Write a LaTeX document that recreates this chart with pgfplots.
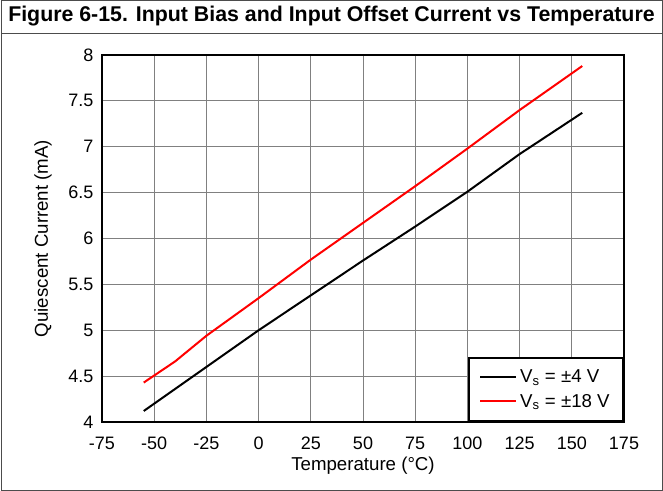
\documentclass[border=0pt]{standalone}
\usepackage{fontspec}
\setmainfont{Liberation Sans}
\usepackage{pgfplots}
\pgfplotsset{compat=1.18}
\begin{document}
\begin{tikzpicture}
\useasboundingbox (0,0) rectangle (497.25pt,-368.25pt);
\draw[line width=0.75pt, black!70] (0.75pt,-0.5pt) rectangle (496.5pt,-367.7pt);
\draw[line width=0.75pt, black!70] (0.75pt,-25.5pt) -- (496.5pt,-25.5pt);
\node[anchor=base west, inner sep=0pt, font=\bfseries\fontsize{16}{19}\selectfont] at (6pt,-16.5pt) {Figure 6-15. Input Bias and Input Offset Current vs Temperature};
\begin{axis}[
  at={(76.5pt,-316.5pt)}, anchor=south west,
  scale only axis, width=391.5pt, height=275.25pt,
  xmin=-75, xmax=175, ymin=4, ymax=8,
  xtick={-75,-50,...,175}, ytick={4,4.5,...,8},
  yticklabels={4,4.5,5,5.5,6,6.5,7,7.5,8},
  /pgf/number format/assume math mode=true,
  tick label style={font=\fontsize{13.5}{16}\selectfont},
  xticklabel style={yshift=-8pt},
  yticklabel style={xshift=-3pt},
  major tick length=0pt,
  grid=major,
  major grid style={line width=0.75pt, black!50},
  axis line style={line width=1.5pt, black},
  xlabel={Temperature (°C)},
  ylabel={Quiescent Current (mA)},
  every axis x label/.style={at={(axis description cs:0.5,-0.12)}, anchor=center, font=\fontsize{14}{17}\selectfont},
  every axis y label/.style={at={(axis description cs:-0.113,0.5)}, anchor=center, rotate=90, font=\fontsize{14}{17}\selectfont},
  legend style={at={(1,0)}, anchor=south east, draw=black, line width=1.5pt,
    font=\fontsize{14}{17}\selectfont, inner xsep=8pt, inner ysep=7pt, row sep=3pt,
    legend cell align=left, fill=white},
  legend image code/.code={\draw[#1, line width=1.5pt] (0pt,0pt) -- (27pt,0pt);},
]
\addplot[black, line width=1.5pt] coordinates {
(-55,4.12) (-40,4.36) (-25,4.60) (0,5.0) (25,5.38) (50,5.76) (75,6.13) (100,6.51) (125,6.92) (155,7.37)};
\addlegendentry{V\textsubscript{s} = ±4 V}
\addplot[red, line width=1.5pt] coordinates {
(-55,4.43) (-40,4.66) (-25,4.94) (0,5.35) (25,5.77) (50,6.17) (75,6.57) (100,6.98) (125,7.40) (155,7.88)};
\addlegendentry{V\textsubscript{s} = ±18 V}
\end{axis}
\end{tikzpicture}
\end{document}
